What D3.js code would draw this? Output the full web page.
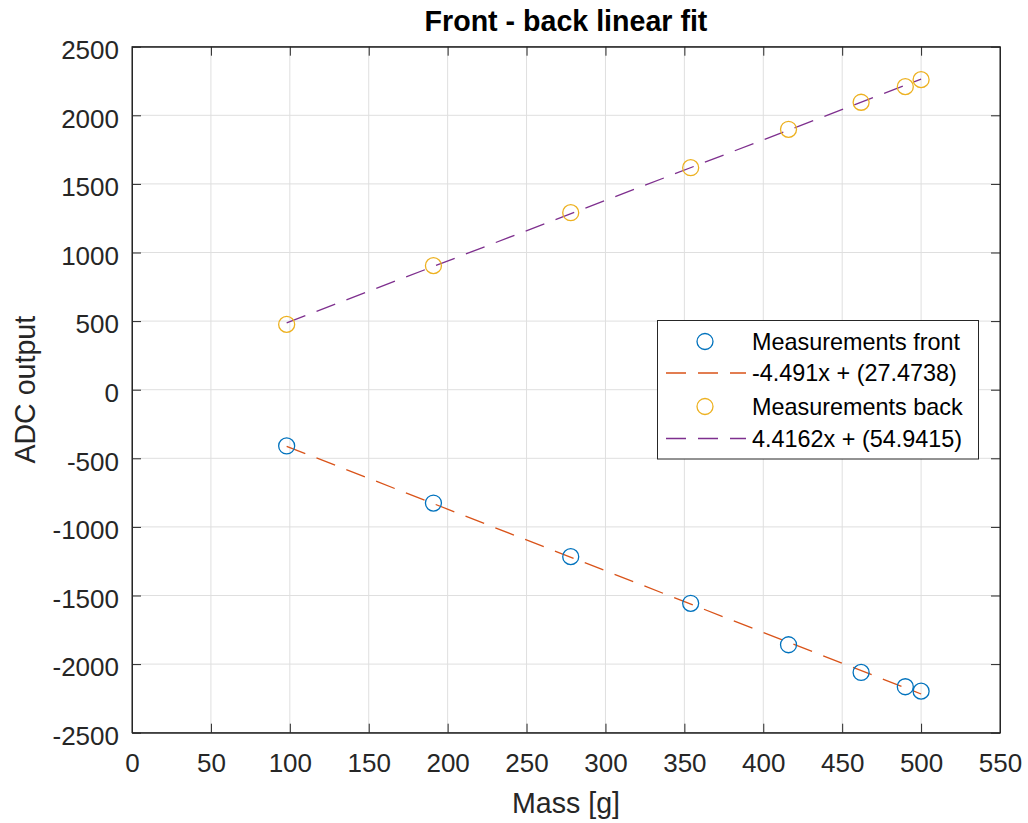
<!DOCTYPE html>
<html>
<head>
<meta charset="utf-8">
<script src="https://cdn.jsdelivr.net/npm/d3@7"></script>
<style>
  html, body { margin: 0; padding: 0; background: #ffffff; }
  svg { display: block; font-family: "Liberation Sans", Arial, Helvetica, sans-serif; }
</style>
</head>
<body>
<svg id="chart" width="1028" height="823"></svg>
<script>
// Measured mass (g) and ADC readings for the front and back sensors
const mass = [98, 191, 278, 354, 416, 462, 490, 500];
const adcFront = [-410, -826, -1217, -1557, -1859, -2061, -2165, -2197];
const adcBack = [476, 904, 1290, 1618, 1898, 2095, 2209, 2260];

// Linear fit coefficients [slope, intercept]
const fitFront = [-4.491, 27.4738];
const fitBack = [4.4162, 54.9415];

// Axis ticks
const xTicks = [0, 50, 100, 150, 200, 250, 300, 350, 400, 450, 500, 550];
const yTicks = [-2500, -2000, -1500, -1000, -500, 0, 500, 1000, 1500, 2000, 2500];

const legendLabels = ["Measurements front", "-4.491x + (27.4738)", "Measurements back", "4.4162x + (54.9415)"];

const colors = {
  front: "#0072BD",
  frontFit: "#D95319",
  back: "#EDB120",
  backFit: "#7E2F8E",
  axis: "#262626",
  grid: "#dfdfdf"
};

const plot = { left: 132, right: 1000, top: 46.7, bottom: 732.7 };

const svg = d3.select("#chart");

const x = d3.scaleLinear().domain([0, 550]).range([plot.left, plot.right]);
const y = d3.scaleLinear().domain([-2500, 2500]).range([plot.bottom, plot.top]);

// Plain integer labels with an ASCII hyphen for negatives
const plainFormat = d => String(d);

// Grid lines
const grid = svg.append("g");
grid.selectAll("line.gx").data(xTicks).join("line")
  .attr("x1", d => x(d)).attr("x2", d => x(d))
  .attr("y1", plot.top).attr("y2", plot.bottom)
  .attr("stroke", colors.grid).attr("stroke-width", 1);
grid.selectAll("line.gy").data(yTicks).join("line")
  .attr("y1", d => y(d)).attr("y2", d => y(d))
  .attr("x1", plot.left).attr("x2", plot.right)
  .attr("stroke", colors.grid).attr("stroke-width", 1);

// Axes with inward ticks on all four sides
const tickLen = 9;
function styleAxis(g) {
  g.select(".domain").attr("stroke", colors.axis).attr("stroke-width", 1);
  g.selectAll(".tick line").attr("stroke", colors.axis).attr("stroke-width", 1);
  g.selectAll(".tick text").attr("fill", colors.axis).attr("font-size", 26);
}

svg.append("g").attr("transform", `translate(0,${plot.bottom})`)
  .call(d3.axisBottom(x).tickValues(xTicks).tickFormat(plainFormat).tickSizeInner(-tickLen).tickSizeOuter(0).tickPadding(0))
  .call(styleAxis)
  .call(g => g.selectAll(".tick text").attr("y", 39).attr("dy", null));

svg.append("g").attr("transform", `translate(0,${plot.top})`)
  .call(d3.axisTop(x).tickValues(xTicks).tickSizeInner(-tickLen).tickSizeOuter(0).tickFormat(""))
  .call(styleAxis);

svg.append("g").attr("transform", `translate(${plot.left},0)`)
  .call(d3.axisLeft(y).tickValues(yTicks).tickFormat(plainFormat).tickSizeInner(-tickLen).tickSizeOuter(0).tickPadding(0))
  .call(styleAxis)
  .call(g => g.selectAll(".tick text").attr("x", -13).attr("dy", "0.45em"));

svg.append("g").attr("transform", `translate(${plot.right},0)`)
  .call(d3.axisRight(y).tickValues(yTicks).tickSizeInner(-tickLen).tickSizeOuter(0).tickFormat(""))
  .call(styleAxis);

// Fit lines across the measured mass range
const xExtent = d3.extent(mass);
const fitLine = d3.line().x(d => x(d[0])).y(d => y(d[1]));
function fitPoints(c) { return xExtent.map(m => [m, c[0] * m + c[1]]); }

svg.append("path").datum(fitPoints(fitFront))
  .attr("d", fitLine).attr("fill", "none")
  .attr("stroke", colors.frontFit).attr("stroke-width", 1.3).attr("stroke-dasharray", "20,12");
svg.append("path").datum(fitPoints(fitBack))
  .attr("d", fitLine).attr("fill", "none")
  .attr("stroke", colors.backFit).attr("stroke-width", 1.3).attr("stroke-dasharray", "20,12");

// Measurement markers
const r = 8;
svg.append("g").selectAll("circle").data(mass.map((m, i) => [m, adcFront[i]])).join("circle")
  .attr("cx", d => x(d[0])).attr("cy", d => y(d[1])).attr("r", r)
  .attr("fill", "none").attr("stroke", colors.front).attr("stroke-width", 1.3);
svg.append("g").selectAll("circle").data(mass.map((m, i) => [m, adcBack[i]])).join("circle")
  .attr("cx", d => x(d[0])).attr("cy", d => y(d[1])).attr("r", r)
  .attr("fill", "none").attr("stroke", colors.back).attr("stroke-width", 1.3);

// Box outline
svg.append("rect")
  .attr("x", plot.left).attr("y", plot.top)
  .attr("width", plot.right - plot.left).attr("height", plot.bottom - plot.top)
  .attr("fill", "none").attr("stroke", colors.axis).attr("stroke-width", 1);

// Title and axis labels
svg.append("text").attr("x", (plot.left + plot.right) / 2).attr("y", 31)
  .attr("text-anchor", "middle").attr("font-size", 28.6).attr("font-weight", "bold")
  .attr("fill", "#000").text("Front - back linear fit");

svg.append("text").attr("x", (plot.left + plot.right) / 2).attr("y", 813)
  .attr("text-anchor", "middle").attr("font-size", 28.6).attr("fill", colors.axis)
  .text("Mass [g]");

svg.append("text")
  .attr("transform", `translate(35,${(plot.top + plot.bottom) / 2}) rotate(-90)`)
  .attr("text-anchor", "middle").attr("font-size", 28.6).attr("fill", colors.axis)
  .text("ADC output");

// Legend
const legend = svg.append("g");
legend.append("rect").attr("x", 657.5).attr("y", 320.5).attr("width", 321).attr("height", 138.5)
  .attr("fill", "#fff").attr("stroke", colors.axis).attr("stroke-width", 1);

const rowY = [341.5, 373, 406.5, 438.5];
const legendKinds = [
  { type: "marker", color: colors.front },
  { type: "line", color: colors.frontFit },
  { type: "marker", color: colors.back },
  { type: "line", color: colors.backFit }
];
legendKinds.forEach((k, i) => {
  if (k.type === "marker") {
    legend.append("circle").attr("cx", 705).attr("cy", rowY[i]).attr("r", r)
      .attr("fill", "none").attr("stroke", k.color).attr("stroke-width", 1.3);
  } else {
    legend.append("line").attr("x1", 666).attr("x2", 746).attr("y1", rowY[i]).attr("y2", rowY[i])
      .attr("stroke", k.color).attr("stroke-width", 1.3).attr("stroke-dasharray", "20,12");
  }
  legend.append("text").attr("x", 752).attr("y", rowY[i] + 8.4)
    .attr("font-size", 23.4).attr("fill", "#000").text(legendLabels[i]);
});
</script>
</body>
</html>
